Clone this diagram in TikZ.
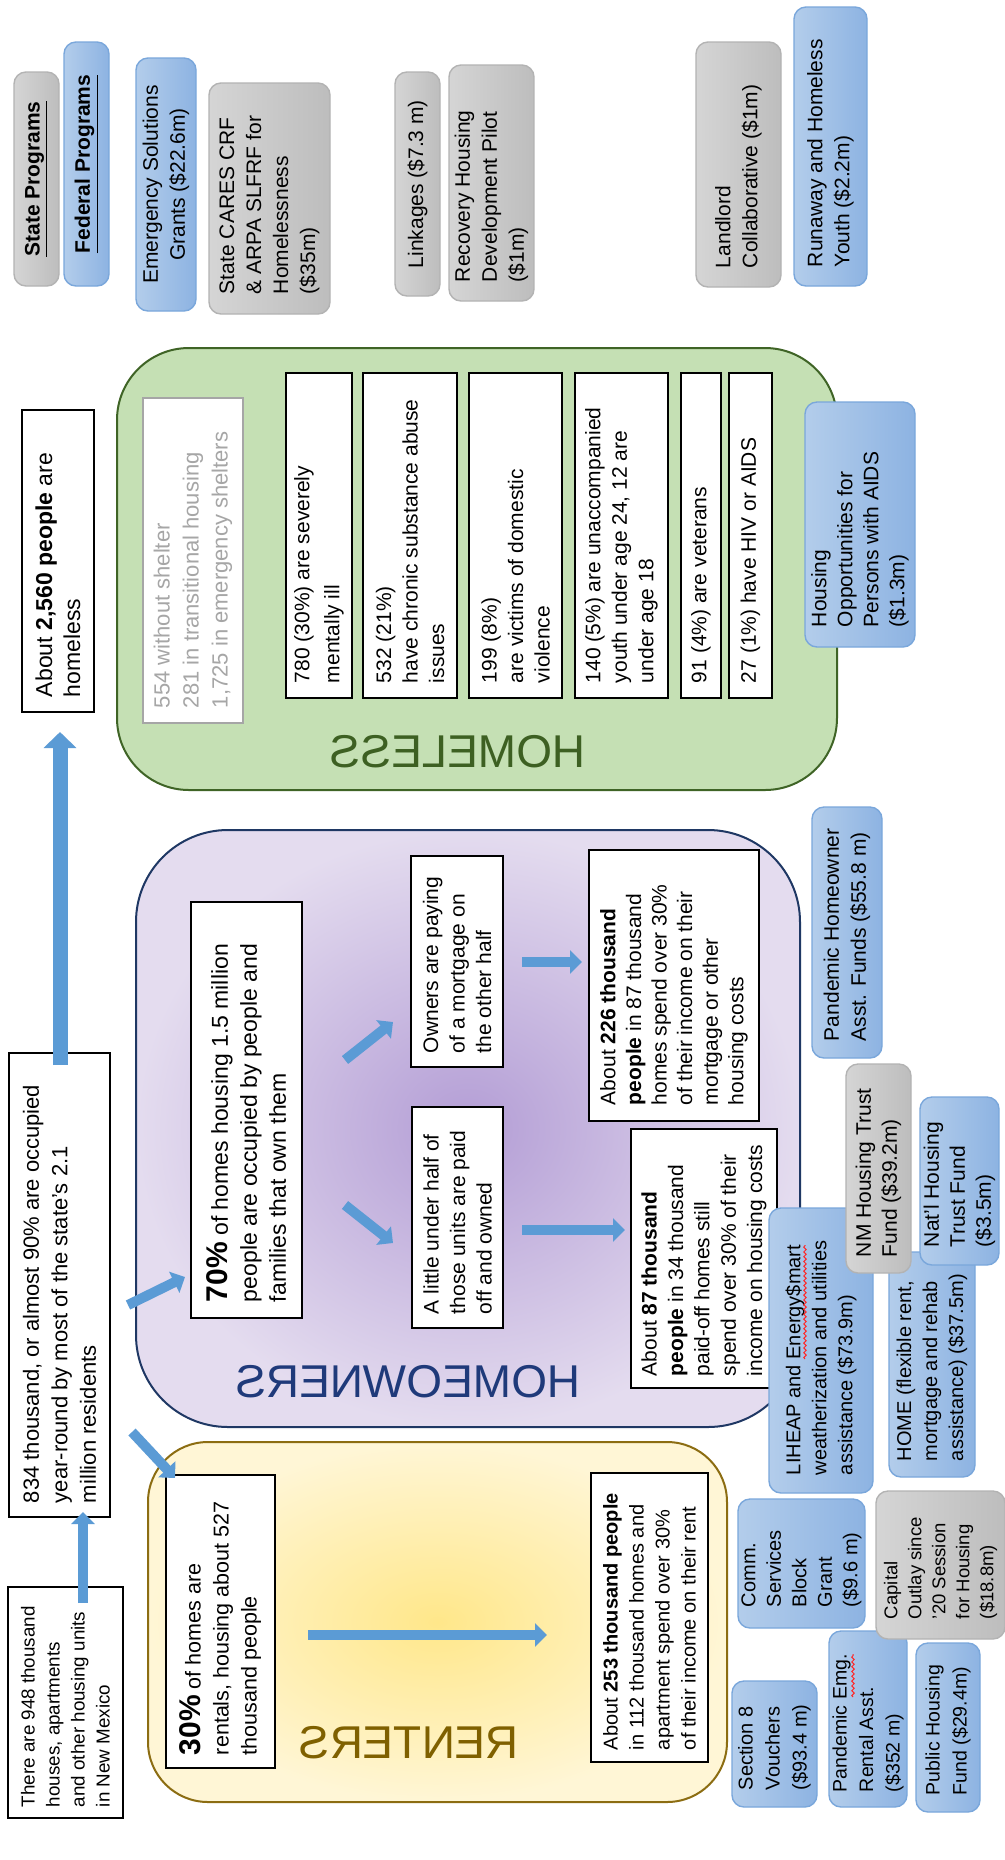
\documentclass[tikz,border=0pt]{standalone}
\usepackage{fontspec}
\setmainfont{Liberation Sans}
\usepackage{graphicx}
\usetikzlibrary{arrows.meta,calc,decorations.pathmorphing}
\definecolor{progblueL}{HTML}{B3CDEB}
\definecolor{progblueR}{HTML}{8DB3E2}
\definecolor{progblueline}{HTML}{7AA7DB}
\definecolor{proggrayL}{HTML}{D5D5D5}
\definecolor{proggrayR}{HTML}{BDBDBD}
\definecolor{proggrayline}{HTML}{B3B3B3}
\definecolor{hlessfill}{HTML}{C5E0B4}
\definecolor{hlessline}{HTML}{3F6426}
\definecolor{hlesstext}{HTML}{3D6022}
\definecolor{ownin}{HTML}{B39DD5}
\definecolor{ownout}{HTML}{E4DCEF}
\definecolor{ownline}{HTML}{1F3864}
\definecolor{owntext}{HTML}{1F3A7A}
\definecolor{rentin}{HTML}{FFE78A}
\definecolor{rentout}{HTML}{FFF6D6}
\definecolor{rentline}{HTML}{8C6D12}
\definecolor{renttext}{HTML}{7F6000}
\definecolor{arrowblue}{HTML}{5B9BD5}
\definecolor{sheltergray}{HTML}{A6A6A6}
\newcommand\fsz[2]{\fontsize{#1pt}{#2pt}\selectfont}
% #1 style, #2 name, #3 x1, #4 y1, #5 x2, #6 y2 (px), #7 padding (px), #8 text (set reading upwards)
\newcommand\bx[8]{%
  \pgfmathsetmacro\bxL{(#6-#4)*0.5}%
  \pgfmathsetmacro\bxH{(#5-#3)*0.5}%
  \pgfmathsetmacro\bxT{\bxL-#7}%
  \node[#1, minimum width=\bxH pt, minimum height=\bxL pt] (#2) at ({(#3+#5)/2},{(#4+#6)/2}) {\rotatebox{90}{\parbox{\bxT pt}{\raggedright #8}}};}
\begin{document}
\begin{tikzpicture}[x=0.5pt,y=-0.5pt,
  blueprog/.style={rounded corners=6pt, draw=progblueline, line width=0.7pt, left color=progblueL, right color=progblueR, inner sep=0pt, font=\fsz{10.5}{13.5}},
  grayprog/.style={rounded corners=6pt, draw=proggrayline, line width=0.7pt, left color=proggrayL, right color=proggrayR, inner sep=0pt, font=\fsz{10.5}{13.5}},
  txtbox/.style={draw=black, line width=1.2pt, fill=white, inner sep=0pt, font=\fsz{10.5}{13.25}},
  lbl/.style={xscale=-1, anchor=base, font=\fsz{23}{23}},
  barrow/.style={arrowblue, line width=5pt, -{Triangle[length=6pt,width=11.5pt]}},
  mainarrow/.style={arrowblue, line width=7.5pt, -{Triangle[length=8pt,width=16pt]}},
  spellwave/.style={red!85!white, line width=0.5pt, decorate, decoration={snake, amplitude=0.6pt, segment length=2.4pt}}]
\useasboundingbox (0,0) rectangle (1005,1860);
\fill[white] (0,0) rectangle (1005,1860);

% regions
\node[draw=hlessline, line width=1pt, rounded corners=36pt, fill=hlessfill, minimum width=360pt, minimum height=221pt, inner sep=0pt] (homeless) at (477,569) {};
\node[draw=ownline, line width=1pt, rounded corners=46pt, inner color=ownin, outer color=ownout, minimum width=332pt, minimum height=298.5pt, inner sep=0pt] (owners) at (468,1128.5) {};
\node[draw=rentline, line width=1pt, rounded corners=30pt, inner color=rentin, outer color=rentout, minimum width=289.5pt, minimum height=180pt, inner sep=0pt] (renters) at (437.5,1622) {};

\node[lbl, text=hlesstext] (lblhomeless) at (458,767) {HOMELESS};
\node[lbl, text=owntext] (lblowners) at (408,1397) {HOMEOWNERS};
\node[lbl, text=renttext] (lblrenters) at (409,1758) {RENTERS};

% text boxes
\bx{txtbox, font=\fsz{11.5}{14}}{hless}{22}{410}{94}{712}{15}{About \textbf{2,560 people} are\\homeless}
\bx{txtbox, draw=sheltergray, text=sheltergray, font=\fsz{11}{14.5}}{shelter}{143}{398}{243}{723}{15}{554 without shelter\\281 in transitional housing\\1,725 in emergency shelters}
\bx{txtbox, font=\fsz{10.5}{15}}{ill}{286}{373}{352}{698}{15}{780 (30\%) are severely\\mentally ill}
\bx{txtbox}{subst}{363}{373}{457}{698}{15}{532 (21\%)\\have chronic substance abuse\\issues}
\bx{txtbox}{dv}{469}{373}{562}{698}{15}{199 (8\%)\\are victims of domestic\\violence}
\bx{txtbox}{youth}{575}{373}{668}{698}{15}{140 (5\%) are unaccompanied\\youth under age 24, 12 are\\under age 18}
\bx{txtbox}{vets}{681}{373}{721}{698}{15}{91 (4\%) are veterans}
\bx{txtbox}{hiv}{729}{373}{772}{698}{15}{27 (1\%) have HIV or AIDS}

\bx{txtbox, font=\fsz{11}{14.25}}{occupied}{9}{1053}{110}{1517}{14}{834 thousand, or almost 90\% are occupied\\year-round by most of the state’s 2.1\\million residents}
\bx{txtbox, font=\fsz{9.4}{12.5}}{units948}{8}{1587}{123}{1818}{11}{There are 948 thousand\\houses, apartments\\and other housing units\\in New Mexico}
\bx{txtbox, font=\fsz{11.5}{14.5}}{own70}{191}{902}{302}{1318}{16}{{\fsz{15}{15}\textbf{70\%}} of homes housing 1.5 million\\people are occupied by people and\\families that own them}
\bx{txtbox}{mortgage}{411}{856}{503}{1067}{14}{Owners are paying\\of a mortgage on\\the other half}
\bx{txtbox}{paidoff}{412}{1107}{503}{1328}{14}{A little under half of\\those units are paid\\off and owned}
\bx{txtbox, font=\fsz{10.5}{12.8}}{pay226}{589}{850}{759}{1121}{16}{About \textbf{226 thousand}\\\textbf{people} in 87 thousand\\homes spend over 30\%\\of their income on their\\mortgage or other\\housing costs}
\bx{txtbox, font=\fsz{10.5}{13.2}}{pay87}{631}{1129}{777}{1388}{12}{About \textbf{87 thousand}\\\textbf{people} in 34 thousand\\paid-off homes still\\spend over 30\% of their\\income on housing costs}
\bx{txtbox, font=\fsz{10.75}{14}}{rent30}{166}{1475}{275}{1768}{13}{{\fsz{15}{15}\textbf{30\%}} of homes are\\rentals, housing about 527\\thousand people}
\bx{txtbox, font=\fsz{10}{13}}{rent253}{591}{1473}{708}{1762}{12}{About \textbf{253 thousand people}\\in 112 thousand homes and\\apartment spend over 30\%\\of their income on their rent}

% arrows
\draw[barrow] ($(units948.center)+(17.5,-99.5)$) -- ($(occupied.center)+(23.5,227)$);
\draw[mainarrow] ($(occupied.center)+(0.5,-220)$) -- ($(hless.center)+(2,171)$);
\draw[barrow] ($(occupied.center)+(68.5,20)$) -- ($(own70.center)+(-61.5,167)$);
\draw[barrow] ($(occupied.center)+(72.5,147)$) -- ($(rent30.center)+(-45.5,-143.5)$);
\draw[barrow] ($(own70.center)+(98.5,-50)$) -- ($(mortgage.center)+(-64,60.5)$);
\draw[barrow] ($(own70.center)+(98.5,95)$) -- ($(paidoff.center)+(-64.5,25.5)$);
\draw[barrow] ($(mortgage.center)+(65,0.5)$) -- ($(pay226.center)+(-92,-23.5)$);
\draw[barrow] ($(paidoff.center)+(64.5,12.5)$) -- ($(pay87.center)+(-79,-28.5)$);
\draw[barrow] ($(rent30.center)+(87.5,13.5)$) -- ($(rent253.center)+(-102.5,17.5)$);

% programs
\bx{grayprog, font=\bfseries\fsz{10.5}{13.5}}{state}{14}{72}{59}{286}{20}{\centering\underline{State Programs}}
\bx{blueprog, font=\bfseries\fsz{10.5}{13.5}}{federal}{64}{42}{109}{286}{20}{\centering\underline{Federal Programs}}
\bx{blueprog}{esg}{136}{58}{196}{311}{20}{\centering Emergency Solutions\\Grants (\$22.6m)}
\bx{grayprog}{cares}{209}{83}{330}{314}{20}{State CARES CRF\\\& ARPA SLFRF for\\Homelessness\\(\$35m)}
\bx{grayprog}{linkages}{395}{72}{440}{296}{20}{\centering Linkages (\$7.3 m)}
\bx{grayprog}{recovery}{449}{65}{534}{301}{19}{Recovery Housing\\Development Pilot\\(\$1m)}
\bx{grayprog}{landlord}{696}{42}{781}{287}{19}{Landlord\\Collaborative (\$1m)}
\bx{blueprog}{runaway}{794}{7}{867}{286}{19}{Runaway and Homeless\\Youth (\$2.2m)}
\bx{blueprog, font=\fsz{10.5}{13}}{hopwa}{805}{402}{915}{647}{20}{Housing\\Opportunities for\\Persons with AIDS\\(\$1.3m)}
\bx{blueprog}{phaf}{812}{807}{882}{1058}{17}{Pandemic Homeowner\\Asst. Funds (\$55.8 m)}
\bx{blueprog, font=\fsz{10}{13}}{liheap}{769}{1208}{873}{1493}{18}{LIHEAP and Energy\$mart\\weatherization and utilities\\assistance (\$73.9m)}
\draw[spellwave] ($(liheap.center)+(-16,8.5)$) -- ($(liheap.center)+(-16,-105.5)$);
\bx{blueprog, font=\fsz{10}{13}}{home}{889}{1252}{975}{1477}{16}{HOME (flexible rent,\\mortgage and rehab\\assistance) (\$37.5m)}
\bx{grayprog, font=\fsz{10.5}{13}}{nmhtf}{846}{1064}{911}{1273}{16}{NM Housing Trust\\Fund (\$39.2m)}
\bx{blueprog, font=\fsz{10.5}{13}}{nhtf}{920}{1097}{999}{1265}{18}{Nat’l Housing\\Trust Fund\\(\$3.5m)}
\bx{blueprog, font=\fsz{10}{12.75}}{csbg}{738}{1499}{865}{1628}{21}{Comm.\\Services\\Block\\Grant\\(\$9.6 m)}
\bx{blueprog, font=\fsz{10}{13.5}}{sec8}{732}{1681}{817}{1807}{17}{Section 8\\Vouchers\\(\$93.4 m)}
\bx{blueprog, font=\fsz{9.75}{13.25}}{perap}{829}{1631}{907}{1807}{15}{Pandemic Emg.\\Rental Asst.\\(\$352 m)}
\draw[spellwave] ($(perap.center)+(-15,-22)$) -- ($(perap.center)+(-15,-65)$);
\bx{grayprog, font=\fsz{9.25}{12}}{capital}{876}{1491}{1005}{1639}{20}{Capital\\Outlay since\\’20 Session\\for Housing\\(\$18.8m)}
\bx{blueprog, font=\fsz{9.75}{13.5}}{phf}{916}{1643}{980}{1812}{17}{Public Housing\\Fund (\$29.4m)}
\end{tikzpicture}
\end{document}
